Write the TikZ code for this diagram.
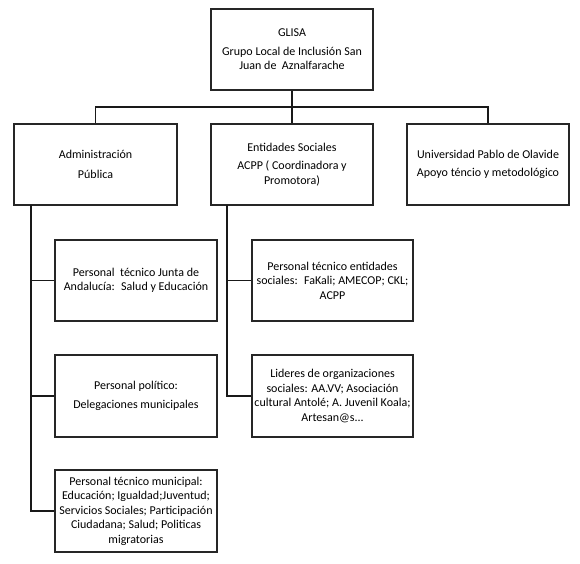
\documentclass[tikz,border=0pt]{standalone}
\usepackage{fontspec}
\setmainfont{Carlito}
\begin{document}
\begin{tikzpicture}[x=1pt,y=-1pt,
  box/.style={draw=black!85, line width=1.5pt, inner sep=0pt, align=center,
    font=\fontsize{12}{14.5}\selectfont, text=black},
  conn/.style={draw=black!90, line width=1.4pt}]
\useasboundingbox (0,0) rectangle (580,563);
\node[box, minimum width=162pt, minimum height=81pt] (glisa) at (292,49.5)
  {GLISA\\[4pt]Grupo Local de Inclusión San\\Juan de \ Aznalfarache};
\node[box, minimum width=163pt, minimum height=81pt] (admin) at (95.5,164.5)
  {Administración\\[5pt]Pública};
\node[box, minimum width=162pt, minimum height=81pt] (ent) at (292,164.5)
  {Entidades Sociales\\[4pt]ACPP ( Coordinadora y\\Promotora)};
\node[box, minimum width=162pt, minimum height=81pt] (univ) at (488,164.5)
  {Universidad Pablo de Olavide\\[4pt]Apoyo téncio y metodológico};
\node[box, minimum width=162pt, minimum height=81pt] (l1) at (136,280.5)
  {Personal \ técnico Junta de\\Andalucía: \ Salud y Educación};
\node[box, minimum width=162pt, minimum height=82pt] (l2) at (136,396)
  {Personal político:\\[5pt]Delegaciones municipales};
\node[box, minimum width=162pt, minimum height=82pt] (l3) at (136,511)
  {Personal técnico municipal:\\Educación; Igualdad;Juventud;\\Servicios Sociales; Participación\\Ciudadana; Salud; Politicas\\migratorias};
\node[box, minimum width=161pt, minimum height=81pt] (r1) at (332.5,280.5)
  {Personal técnico entidades\\sociales: \ FaKali; AMECOP; CKL;\\ACPP};
\node[box, minimum width=161pt, minimum height=82pt] (r2) at (332.5,396)
  {Lideres de organizaciones\\sociales: AA.VV; Asociación\\cultural Antolé; A. Juvenil Koala;\\Artesan@s...};
\coordinate (bus) at (292,107);
\coordinate (ta) at (31,205);
\coordinate (te) at (227,205);
\draw[conn] (glisa.south) -- (ent.north);
\draw[conn] (admin.north) |- (bus) -| (univ.north);
\draw[conn] (ta) |- (l3.west);
\draw[conn] (ta |- l1.west) -- (l1.west);
\draw[conn] (ta |- l2.west) -- (l2.west);
\draw[conn] (te) |- (r2.west);
\draw[conn] (te |- r1.west) -- (r1.west);
\end{tikzpicture}
\end{document}
